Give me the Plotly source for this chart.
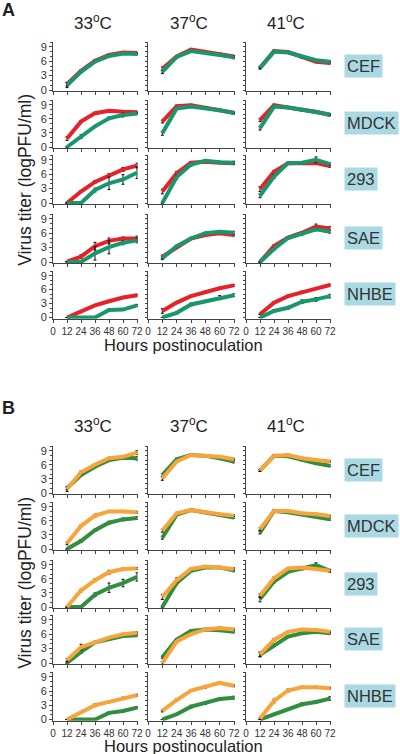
import plotly.graph_objects as go

# ---------------- data ----------------
hours = [12, 24, 36, 48, 60, 72]
x_tick_vals = [0, 12, 24, 36, 48, 60, 72]
y_tick_vals = [0, 3, 6, 9]
temperatures = ["33<sup>o</sup>C", "37<sup>o</sup>C", "41<sup>o</sup>C"]
cell_lines = ["CEF", "MDCK", "293", "SAE", "NHBE"]
panel_letters = ["A", "B"]
y_title = "Virus titer (logPFU/ml)"
x_title = "Hours postinoculation"

# Panel A  (rows: CEF, MDCK, 293, SAE, NHBE)
A_red_33 = [[1.2, 4.0, 6.1, 7.3, 7.8, 7.7], [1.8, 5.4, 7.2, 7.7, 7.5, 7.4], [0, 2.4, 4.4, 5.8, 7.0, 7.8],
            [0.1, 1.1, 3.3, 4.4, 4.9, 4.9], [0, 1.2, 2.6, 3.5, 4.3, 4.8]]
A_green_33 = [[1.0, 3.8, 5.9, 7.1, 7.6, 7.5], [0, 2.2, 4.4, 6.1, 6.8, 7.1], [0, 0, 2.7, 4.1, 4.9, 6.3],
              [0, 0, 1.8, 3.1, 4.0, 4.5], [0, 0, 0, 1.6, 1.7, 2.6]]
A_red_37 = [[4.4, 7.0, 8.4, 8.0, 7.5, 7.0], [5.4, 8.7, 8.9, 8.3, 7.8, 7.3], [2.4, 6.2, 8.4, 8.6, 8.4, 8.3],
            [1.1, 3.0, 4.9, 5.6, 6.0, 5.6], [1.4, 3.2, 4.6, 5.5, 6.3, 6.9]]
A_green_37 = [[3.8, 6.9, 8.1, 7.8, 7.3, 6.8], [2.9, 8.2, 8.6, 8.3, 7.8, 7.2], [0, 5.4, 8.0, 8.8, 8.5, 8.4],
              [0.8, 3.3, 4.9, 6.0, 6.3, 6.1], [0, 1.0, 2.8, 3.5, 4.3, 4.8]]
A_red_41 = [[4.6, 8.1, 7.9, 6.8, 5.9, 5.6], [5.7, 8.9, 8.4, 8.0, 7.5, 6.8], [2.9, 6.5, 8.3, 8.4, 8.3, 7.7],
            [0, 3.3, 5.1, 6.1, 7.4, 7.0], [0.7, 3.2, 4.6, 5.5, 6.2, 7.0]]
A_green_41 = [[4.6, 8.0, 7.8, 6.9, 6.2, 5.9], [4.0, 8.6, 8.4, 7.9, 7.4, 6.9], [1.5, 5.5, 8.3, 8.4, 9.0, 8.1],
              [0, 2.7, 5.0, 5.8, 6.8, 6.3], [0, 1.4, 2.1, 3.4, 3.9, 4.6]]

A_red_33_err = [[0.4, 0.2, 0.2, 0.2, 0.2, 0.2], [0.4, 0.2, 0.2, 0.2, 0.2, 0.2], [0, 0.2, 0.3, 0.3, 0.4, 0.5],
                [0, 0.4, 0.8, 0.6, 0.3, 0.5], [0, 0.2, 0.2, 0.2, 0.2, 0.2]]
A_green_33_err = [[0.5, 0.2, 0.2, 0.2, 0.2, 0.2], [0, 0.4, 0.2, 0.3, 0.4, 0.2], [0, 0, 0.4, 1.3, 1.0, 1.2],
                  [0, 0, 1.4, 1.4, 0.4, 0.5], [0, 0, 0, 0.2, 0.2, 0.2]]
A_red_37_err = [[0.4, 0.2, 0.2, 0.2, 0.2, 0.2], [0.3, 0.2, 0.2, 0.2, 0.2, 0.2], [0.5, 0.4, 0.2, 0.2, 0.2, 0.3],
                [0.3, 0.2, 0.2, 0.2, 0.2, 0.2], [0.5, 0.2, 0.2, 0.2, 0.2, 0.2]]
A_green_37_err = [[0.4, 0.2, 0.2, 0.2, 0.2, 0.3], [0.4, 0.2, 0.2, 0.2, 0.2, 0.2], [0, 0.4, 0.3, 0.2, 0.2, 0.3],
                  [0.3, 0.2, 0.2, 0.2, 0.2, 0.3], [0, 0.2, 0.3, 0.2, 0.4, 0.3]]
A_red_41_err = [[0.2, 0.2, 0.2, 0.2, 0.2, 0.2], [0.3, 0.2, 0.2, 0.2, 0.2, 0.2], [0.5, 0.3, 0.2, 0.2, 0.2, 0.3],
                [0, 0.3, 0.2, 0.2, 0.5, 0.4], [0, 0.2, 0.2, 0.2, 0.2, 0.2]]
A_green_41_err = [[0.2, 0.2, 0.2, 0.2, 0.2, 0.2], [0.4, 0.2, 0.2, 0.2, 0.2, 0.2], [0.4, 0.4, 0.2, 0.2, 0.6, 0.3],
                  [0, 0.3, 0.2, 0.2, 0.3, 0.3], [0, 0.3, 0.3, 0.4, 0.4, 0.4]]

# Panel B
B_orange_33 = [[0.8, 4.4, 6.0, 7.4, 7.7, 8.6], [1.2, 4.9, 7.1, 8.0, 8.0, 7.8], [0, 3.5, 5.7, 7.4, 8.1, 8.2],
               [0.6, 3.3, 4.3, 5.3, 6.0, 6.3], [0, 1.5, 3.0, 3.7, 4.5, 5.1]]
B_green_33 = [[1.0, 3.8, 5.6, 7.0, 7.5, 7.4], [0, 1.7, 4.0, 5.6, 6.3, 6.6], [0, 0, 2.6, 4.1, 5.1, 6.4],
              [0, 2.3, 4.3, 5.0, 5.6, 5.8], [0, 0, 0, 1.4, 1.8, 2.5]]
B_orange_37 = [[3.1, 6.7, 8.1, 7.9, 7.7, 7.2], [3.9, 7.6, 8.3, 7.8, 7.4, 7.1], [2.1, 5.7, 8.1, 8.6, 8.4, 8.1],
               [0, 4.5, 6.0, 7.0, 7.3, 7.0], [1.8, 4.1, 6.1, 6.8, 7.7, 7.1]]
B_green_37 = [[3.8, 7.2, 8.1, 7.9, 7.4, 6.7], [2.4, 7.3, 8.3, 7.8, 7.2, 6.7], [0, 5.1, 7.7, 8.4, 8.4, 7.8],
              [1.2, 4.9, 6.7, 7.0, 6.8, 6.5], [0, 1.1, 2.7, 3.4, 4.3, 4.6]]
B_orange_41 = [[4.8, 7.9, 8.1, 7.4, 7.0, 6.7], [4.2, 8.1, 8.1, 7.6, 7.4, 7.0], [2.4, 6.1, 8.2, 8.4, 8.1, 7.7],
               [1.8, 4.8, 6.5, 7.0, 6.9, 6.5], [0.2, 3.9, 6.1, 6.8, 6.8, 6.6]]
B_green_41 = [[4.8, 7.9, 7.8, 7.0, 6.3, 5.8], [3.5, 8.1, 7.8, 7.3, 6.9, 6.3], [1.7, 5.4, 7.5, 8.1, 8.9, 7.7],
              [1.7, 3.7, 5.5, 6.2, 6.5, 6.2], [0, 1.1, 2.1, 3.2, 3.7, 4.4]]

B_orange_33_err = [[0.5, 0.3, 0.2, 0.2, 0.2, 0.4], [0.3, 0.2, 0.3, 0.2, 0.2, 0.2], [0, 0.3, 0.3, 0.4, 0.2, 0.2],
                   [0.3, 0.6, 0.2, 0.2, 0.2, 0.2], [0, 0.2, 0.3, 0.2, 0.2, 0.2]]
B_green_33_err = [[0.3, 0.2, 0.2, 0.2, 0.3, 0.4], [0, 0.3, 0.2, 0.3, 0.3, 0.3], [0, 0, 0.4, 1.0, 0.8, 0.9],
                  [0, 0.3, 0.2, 0.2, 0.2, 0.2], [0, 0, 0, 0.2, 0.2, 0.2]]
B_orange_37_err = [[0.4, 0.2, 0.2, 0.2, 0.2, 0.2], [0.3, 0.2, 0.2, 0.2, 0.2, 0.2], [0.5, 0.5, 0.2, 0.2, 0.2, 0.3],
                   [0.3, 0.3, 0.2, 0.2, 0.3, 0.2], [0.2, 0.2, 0.2, 0.2, 0.3, 0.2]]
B_green_37_err = [[0.3, 0.2, 0.2, 0.2, 0.2, 0.3], [0.3, 0.2, 0.2, 0.2, 0.2, 0.2], [0, 0.4, 0.2, 0.2, 0.2, 0.3],
                  [0.2, 0.2, 0.2, 0.2, 0.2, 0.2], [0, 0.2, 0.3, 0.2, 0.2, 0.3]]
B_orange_41_err = [[0.2, 0.2, 0.2, 0.2, 0.2, 0.2], [0.3, 0.2, 0.2, 0.2, 0.2, 0.2], [0.4, 0.3, 0.2, 0.2, 0.2, 0.3],
                   [0.5, 0.3, 0.2, 0.2, 0.2, 0.2], [0.2, 0.4, 0.3, 0.2, 0.2, 0.2]]
B_green_41_err = [[0.2, 0.2, 0.2, 0.2, 0.2, 0.2], [0.3, 0.2, 0.2, 0.2, 0.2, 0.2], [0.6, 0.3, 0.2, 0.2, 0.5, 0.3],
                  [0.4, 0.3, 0.2, 0.2, 0.2, 0.2], [0, 0.2, 0.2, 0.3, 0.3, 0.4]]

# ---------------- styling / layout ----------------
RED = "#e62129"
TEAL = "#17976b"
ORANGE = "#f8a43a"
GREEN_B = "#2f8f3e"
AXIS = "#444444"
FONT = "Liberation Sans, Arial, sans-serif"

W, H = 400, 754


def fx(p):
    return p / W


def fy(p):
    return 1 - p / H


col_px = [(53, 137), (148, 234), (246, 330)]
row_px = [
    [(42, 90), (100, 147), (155, 203), (214, 262), (271, 317.5)],
    [(446, 493), (502, 549), (560, 607), (615, 663), (672, 719.5)],
]
Y_LO, Y_HI = -0.25, 10.0
X_LO, X_HI = 0, 72.6

# (first drawn, second drawn on top)
series = [
    [  # panel A
        [(A_red_33, A_red_33_err, RED), (A_green_33, A_green_33_err, TEAL)],
        [(A_red_37, A_red_37_err, RED), (A_green_37, A_green_37_err, TEAL)],
        [(A_red_41, A_red_41_err, RED), (A_green_41, A_green_41_err, TEAL)],
    ],
    [  # panel B
        [(B_green_33, B_green_33_err, GREEN_B), (B_orange_33, B_orange_33_err, ORANGE)],
        [(B_green_37, B_green_37_err, GREEN_B), (B_orange_37, B_orange_37_err, ORANGE)],
        [(B_green_41, B_green_41_err, GREEN_B), (B_orange_41, B_orange_41_err, ORANGE)],
    ],
]

fig = go.Figure()
layout = {}
annotations = []

k = 0
for p in range(2):
    for r in range(5):
        for c in range(3):
            k += 1
            xname = "x" if k == 1 else f"x{k}"
            yname = "y" if k == 1 else f"y{k}"
            xkey = "xaxis" if k == 1 else f"xaxis{k}"
            ykey = "yaxis" if k == 1 else f"yaxis{k}"
            top, bot = row_px[p][r]
            s = (bot - top) / (Y_HI - 0)
            dom_bot = bot + (0 - Y_LO) * s
            left, right = col_px[c]
            sx = (right - left) / 72
            dom_right = left + X_HI * sx
            layout[xkey] = dict(
                domain=[fx(left), fx(dom_right)], range=[X_LO, X_HI], anchor=yname,
                automargin=False,
                showline=True, linecolor=AXIS, linewidth=1, showgrid=False, zeroline=False,
                tickmode="array", tickvals=x_tick_vals, ticktext=[str(v) for v in x_tick_vals],
                ticks="outside", ticklen=3, tickcolor=AXIS, tickwidth=1, tickangle=0,
                showticklabels=(r == 4), tickfont=dict(family=FONT, size=10, color="#333"),
            )
            yax = dict(
                domain=[fy(dom_bot), fy(top)], range=[Y_LO, Y_HI], anchor=xname,
                automargin=False,
                showline=True, linecolor=AXIS, linewidth=1, showgrid=False, zeroline=False,
                ticks="outside", tickcolor=AXIS, tickwidth=1,
                tickfont=dict(family=FONT, size=11, color="#333"),
            )
            if c == 0:
                yax.update(tickmode="array", tickvals=y_tick_vals, ticktext=[str(v) for v in y_tick_vals],
                           ticklen=3, showticklabels=True,
                           minor=dict(tickmode="linear", tick0=0, dtick=1, ticks="outside", ticklen=2,
                                      tickcolor=AXIS))
            else:
                yax.update(tickmode="linear", tick0=0, dtick=1, ticklen=2, showticklabels=False)
            layout[ykey] = yax

            for vals_all, err_all, color in series[p][c]:
                fig.add_trace(go.Scatter(
                    x=hours, y=vals_all[r], xaxis=xname, yaxis=yname, mode="lines",
                    line=dict(color=color, width=4), showlegend=False, hoverinfo="skip",
                    error_y=dict(type="data", array=err_all[r], visible=True, color="#111111",
                                 thickness=1, width=1.5),
                ))

# column titles
title_y_px = [22, 425]
for p in range(2):
    for c in range(3):
        left, right = col_px[c]
        annotations.append(dict(
            x=fx((left + right) / 2 - 2), y=fy(title_y_px[p]), xref="paper", yref="paper",
            text=temperatures[c], showarrow=False, xanchor="center", yanchor="middle",
            font=dict(family=FONT, size=17, color="#222"),
        ))
    # cell line labels
    for r in range(5):
        top, bot = row_px[p][r]
        annotations.append(dict(
            x=fx(344), y=fy((top + bot) / 2), xref="paper", yref="paper",
            text=cell_lines[r], showarrow=False, xanchor="left", yanchor="middle",
            bgcolor="#aad9e3", borderpad=2,
            font=dict(family=FONT, size=16.5, color="#333"),
        ))
    # y title
    annotations.append(dict(
        x=fx(25), y=fy((row_px[p][0][0] + row_px[p][4][1]) / 2), xref="paper", yref="paper",
        text=y_title, showarrow=False, textangle=-90, xanchor="center", yanchor="middle",
        font=dict(family=FONT, size=17.5, color="#222"),
    ))
    # x title
    annotations.append(dict(
        x=fx(183), y=fy([344.5, 745.8][p]), xref="paper", yref="paper",
        text=x_title, showarrow=False, xanchor="center", yanchor="middle",
        font=dict(family=FONT, size=16.5, color="#222"),
    ))
    # panel letter
    annotations.append(dict(
        x=fx(8), y=fy([10, 408][p]), xref="paper", yref="paper",
        text=f"<b>{panel_letters[p]}</b>", showarrow=False, xanchor="center", yanchor="middle",
        font=dict(family=FONT, size=18, color="#222"),
    ))

fig.update_layout(
    width=W, height=H, margin=dict(l=0, r=0, t=0, b=0, autoexpand=False),
    paper_bgcolor="white", plot_bgcolor="white",
    annotations=annotations, **layout,
)

fig.write_html(
    "out.html",
    config={"displayModeBar": False},
    post_script="document.body.style.margin='0';document.body.style.overflow='hidden';",
)
